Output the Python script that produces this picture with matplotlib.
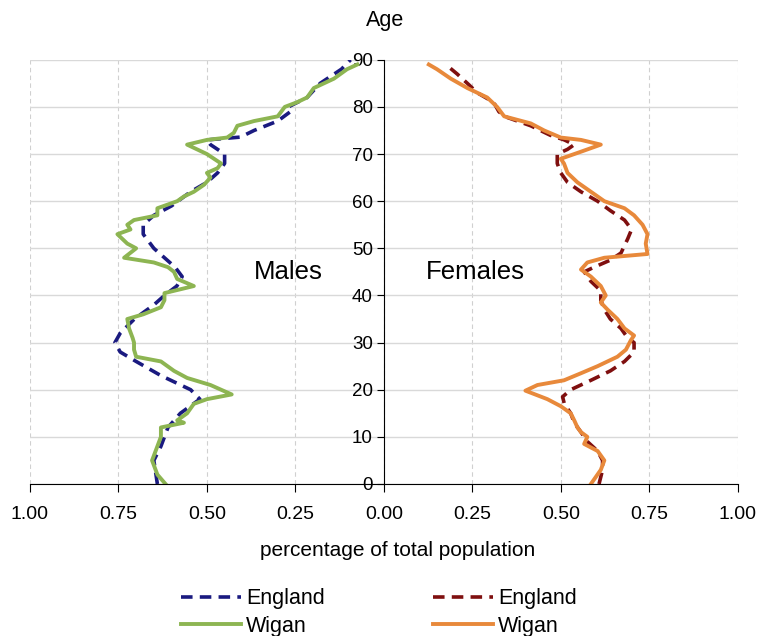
import matplotlib.pyplot as plt
from matplotlib.ticker import FuncFormatter
import numpy as np

plt.rcParams['font.family'] = ['Liberation Sans', 'DejaVu Sans']

# Males, England (share of total population, %)
m_eng_age = [0, 5, 8, 12, 15, 18, 20, 23, 26, 28, 30, 32, 35, 38, 40, 42, 44, 46, 48, 50,
             53, 55, 57, 59, 62, 64, 66, 68, 70, 72, 73, 73.6, 75, 77, 79, 80, 82, 85, 88, 90]
m_eng = [0.64, 0.65, 0.63, 0.61, 0.575, 0.52, 0.546, 0.63, 0.70, 0.745, 0.76, 0.745, 0.705,
         0.65, 0.62, 0.585, 0.57, 0.59, 0.62, 0.65, 0.68, 0.68, 0.65, 0.60, 0.546, 0.50, 0.47,
         0.45, 0.45, 0.49, 0.50, 0.405, 0.367, 0.30, 0.264, 0.27, 0.217, 0.18, 0.12, 0.094]

# Males, Wigan
m_wig_age = [0, 2, 5, 8, 10, 12, 13, 13.5, 15, 17, 18, 19, 21, 22.5, 24, 26, 27, 28.5, 30,
             31, 33, 35, 36, 37.5, 39, 40.5, 42, 43.5, 45, 46, 47, 48, 50, 51, 53, 54, 55, 56,
             57, 58.5, 60, 61, 62, 63.5, 65, 66, 67, 68, 70, 72, 73, 73.5, 74.5, 76, 77, 78,
             79, 80, 81, 82, 84, 86, 88, 89]
m_wig = [0.617, 0.64, 0.655, 0.64, 0.63, 0.63, 0.565, 0.584, 0.556, 0.537, 0.50, 0.43, 0.49,
         0.556, 0.593, 0.63, 0.70, 0.706, 0.706, 0.71, 0.72, 0.725, 0.68, 0.63, 0.62, 0.62,
         0.537, 0.584, 0.593, 0.61, 0.65, 0.734, 0.70, 0.725, 0.753, 0.716, 0.725, 0.706, 0.64,
         0.64, 0.584, 0.565, 0.537, 0.508, 0.49, 0.50, 0.47, 0.46, 0.50, 0.556, 0.50, 0.443,
         0.424, 0.414, 0.367, 0.30, 0.29, 0.28, 0.245, 0.217, 0.198, 0.141, 0.104, 0.075]

# Females, England
f_eng_age = [0, 3, 5, 7, 9, 11, 13, 15, 17, 18.5, 20, 22, 24, 26, 28, 30, 31, 33, 35, 37,
             39, 41, 43, 45, 46, 47.5, 49, 52, 54, 56, 58, 60, 62, 64, 66, 68, 70, 71, 72, 73,
             74, 76, 78, 79, 81, 83, 85, 87, 89]
f_eng = [0.608, 0.618, 0.618, 0.604, 0.575, 0.557, 0.538, 0.528, 0.51, 0.505, 0.528, 0.585,
         0.64, 0.68, 0.707, 0.707, 0.689, 0.67, 0.64, 0.623, 0.613, 0.613, 0.585, 0.566, 0.594,
         0.64, 0.67, 0.689, 0.70, 0.68, 0.64, 0.604, 0.557, 0.519, 0.50, 0.49, 0.49, 0.519,
         0.538, 0.51, 0.47, 0.415, 0.34, 0.325, 0.31, 0.264, 0.236, 0.207, 0.175]

# Females, Wigan
f_wig_age = [0, 3, 5, 7, 8.5, 10, 11, 12, 13.5, 15, 16.5, 18, 19.8, 21, 22, 23.5, 25, 27,
             28.5, 30.5, 31.5, 33, 35, 37, 38.5, 40, 42, 44, 45.5, 47, 48, 48.8, 51, 53, 55,
             57, 58.5, 60, 62, 64, 66, 68, 69, 70.5, 72, 73, 73.5, 75, 76.5, 78, 80, 82, 84,
             86, 88, 89]
f_wig = [0.585, 0.613, 0.623, 0.604, 0.566, 0.575, 0.557, 0.547, 0.538, 0.528, 0.50, 0.462,
         0.40, 0.434, 0.509, 0.557, 0.604, 0.66, 0.684, 0.698, 0.707, 0.68, 0.66, 0.632,
         0.613, 0.627, 0.613, 0.585, 0.557, 0.575, 0.623, 0.745, 0.74, 0.745, 0.731, 0.707,
         0.68, 0.623, 0.585, 0.547, 0.519, 0.509, 0.50, 0.557, 0.613, 0.557, 0.50, 0.453,
         0.415, 0.34, 0.32, 0.292, 0.236, 0.189, 0.15, 0.127]

x_ticks = [-1.0, -0.75, -0.5, -0.25, 0.0, 0.25, 0.5, 0.75, 1.0]
y_ticks = list(range(0, 91, 10))

fig = plt.figure(figsize=(7.59, 6.36), dpi=100)
ax = fig.add_axes([0.0395, 0.239, 0.9325, 0.667])

dash = (0, (3.2, 2.0))
l1, = ax.plot(-np.array(m_eng), m_eng_age, color='#1a1a80', lw=2.6, ls=dash, label='England')
l2, = ax.plot(-np.array(m_wig), m_wig_age, color='#8db552', lw=2.8, label='Wigan')
l3, = ax.plot(f_eng, f_eng_age, color='#7f0f0f', lw=2.6, ls=dash, label='England')
l4, = ax.plot(f_wig, f_wig_age, color='#e8893b', lw=2.8, label='Wigan')

ax.set_xlim(-1, 1)
ax.set_ylim(0, 90)
ax.set_xticks(x_ticks)
ax.set_yticks(y_ticks)
ax.xaxis.set_major_formatter(FuncFormatter(lambda v, p: f'{abs(v):.2f}'))

ax.grid(axis='y', color='#d9d9d9', lw=1, ls='-')
ax.grid(axis='x', color='#d0d0d0', lw=0.8, ls=(0, (4, 3)))
ax.set_axisbelow(True)

for s in ['top', 'right']:
    ax.spines[s].set_visible(False)
ax.spines['left'].set_position(('data', 0))
ax.spines['left'].set_color('black')
ax.spines['bottom'].set_color('black')
ax.tick_params(axis='x', direction='out', length=6, labelsize=14, pad=10)
ax.tick_params(axis='y', direction='out', length=5, labelsize=13.5, pad=3)
for lab in ax.get_yticklabels():
    lab.set_zorder(5)

ax.set_xlabel('percentage of total population', fontsize=15, labelpad=14)
ax.xaxis.set_label_coords(0.52, -0.135)
fig.text(0.508, 0.968, 'Age', ha='center', va='center', fontsize=15.5)
ax.text(-0.27, 45, 'Males', ha='center', va='center', fontsize=18.5)
ax.text(0.26, 45, 'Females', ha='center', va='center', fontsize=18.5)

fig.legend(handles=[l1, l2, l3, l4], ncol=2, loc='center', bbox_to_anchor=(0.499, 0.037),
           frameon=False, fontsize=15.5, handlelength=2.8, handletextpad=0.25,
           columnspacing=5.0, labelspacing=0.3)

fig.savefig('out.png', dpi=100)
